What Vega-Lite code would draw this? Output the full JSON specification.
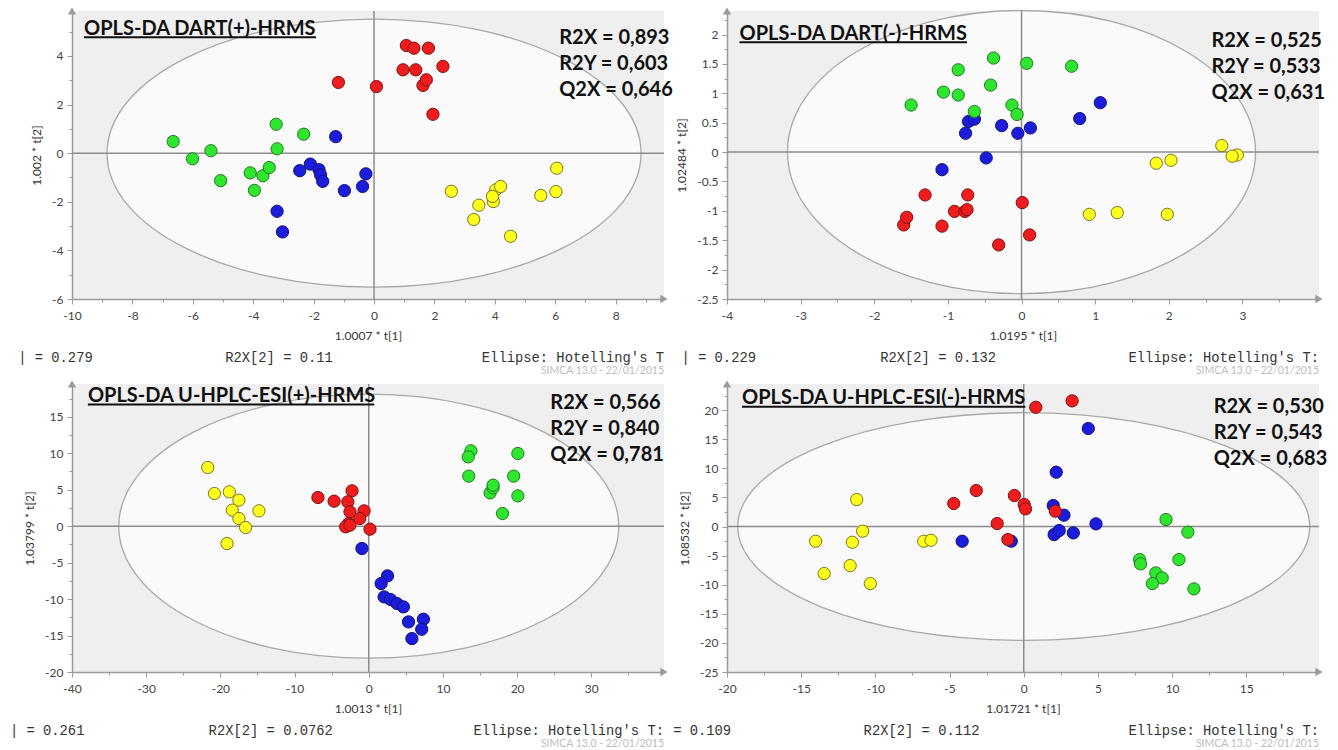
{
 "$schema": "https://vega.github.io/schema/vega-lite/v6.json",
 "padding": {"left": 9, "top": 7, "right": 0, "bottom": 0},
 "background": "white",
 "columns": 2,
 "spacing": {"row": 3, "column": 0},
 "datasets": {
  "scores": [
   {"panel":"TL","group":"blue","x":-1.27,"y":0.68},{"panel":"TL","group":"blue","x":-2.46,"y":-0.72},{"panel":"TL","group":"blue","x":-2.11,"y":-0.45},{"panel":"TL","group":"blue","x":-1.82,"y":-0.68},{"panel":"TL","group":"blue","x":-1.77,"y":-0.89},{"panel":"TL","group":"blue","x":-1.70,"y":-1.16},{"panel":"TL","group":"blue","x":-0.98,"y":-1.54},{"panel":"TL","group":"blue","x":-0.27,"y":-0.85},{"panel":"TL","group":"blue","x":-0.38,"y":-1.37},{"panel":"TL","group":"blue","x":-3.21,"y":-2.39},{"panel":"TL","group":"blue","x":-3.03,"y":-3.24},
   {"panel":"TL","group":"red","x":1.07,"y":4.43},{"panel":"TL","group":"red","x":1.32,"y":4.32},{"panel":"TL","group":"red","x":1.80,"y":4.32},{"panel":"TL","group":"red","x":0.96,"y":3.43},{"panel":"TL","group":"red","x":1.38,"y":3.43},{"panel":"TL","group":"red","x":2.28,"y":3.57},{"panel":"TL","group":"red","x":1.62,"y":2.79},{"panel":"TL","group":"red","x":1.73,"y":3.02},{"panel":"TL","group":"red","x":-1.18,"y":2.91},{"panel":"TL","group":"red","x":0.08,"y":2.74},{"panel":"TL","group":"red","x":1.95,"y":1.60},
   {"panel":"TL","group":"green","x":-6.65,"y":0.48},{"panel":"TL","group":"green","x":-6.01,"y":-0.23},{"panel":"TL","group":"green","x":-5.40,"y":0.10},{"panel":"TL","group":"green","x":-5.08,"y":-1.13},{"panel":"TL","group":"green","x":-3.24,"y":1.19},{"panel":"TL","group":"green","x":-3.21,"y":0.18},{"panel":"TL","group":"green","x":-2.33,"y":0.78},{"panel":"TL","group":"green","x":-4.10,"y":-0.81},{"panel":"TL","group":"green","x":-3.68,"y":-0.93},{"panel":"TL","group":"green","x":-3.47,"y":-0.59},{"panel":"TL","group":"green","x":-3.96,"y":-1.53},
   {"panel":"TL","group":"yellow","x":2.56,"y":-1.57},{"panel":"TL","group":"yellow","x":3.30,"y":-2.73},{"panel":"TL","group":"yellow","x":3.47,"y":-2.14},{"panel":"TL","group":"yellow","x":3.95,"y":-1.99},{"panel":"TL","group":"yellow","x":4.03,"y":-1.51},{"panel":"TL","group":"yellow","x":3.92,"y":-1.78},{"panel":"TL","group":"yellow","x":4.19,"y":-1.37},{"panel":"TL","group":"yellow","x":4.52,"y":-3.42},{"panel":"TL","group":"yellow","x":5.52,"y":-1.74},{"panel":"TL","group":"yellow","x":6.02,"y":-1.58},{"panel":"TL","group":"yellow","x":6.05,"y":-0.62},
   {"panel":"TR","group":"blue","x":1.07,"y":0.84},{"panel":"TR","group":"blue","x":0.79,"y":0.57},{"panel":"TR","group":"blue","x":-0.72,"y":0.52},{"panel":"TR","group":"blue","x":-0.64,"y":0.56},{"panel":"TR","group":"blue","x":-0.76,"y":0.32},{"panel":"TR","group":"blue","x":-0.27,"y":0.45},{"panel":"TR","group":"blue","x":-0.05,"y":0.32},{"panel":"TR","group":"blue","x":0.12,"y":0.41},{"panel":"TR","group":"blue","x":-0.48,"y":-0.10},{"panel":"TR","group":"blue","x":-1.08,"y":-0.30},
   {"panel":"TR","group":"green","x":-0.38,"y":1.60},{"panel":"TR","group":"green","x":0.07,"y":1.51},{"panel":"TR","group":"green","x":0.68,"y":1.46},{"panel":"TR","group":"green","x":-0.86,"y":1.40},{"panel":"TR","group":"green","x":-1.06,"y":1.02},{"panel":"TR","group":"green","x":-0.86,"y":0.97},{"panel":"TR","group":"green","x":-0.42,"y":1.14},{"panel":"TR","group":"green","x":-1.50,"y":0.80},{"panel":"TR","group":"green","x":-0.64,"y":0.69},{"panel":"TR","group":"green","x":-0.13,"y":0.80},{"panel":"TR","group":"green","x":-0.06,"y":0.64},
   {"panel":"TR","group":"red","x":-1.31,"y":-0.73},{"panel":"TR","group":"red","x":-0.73,"y":-0.73},{"panel":"TR","group":"red","x":-0.91,"y":-1.01},{"panel":"TR","group":"red","x":-0.77,"y":-1.01},{"panel":"TR","group":"red","x":-0.74,"y":-0.98},{"panel":"TR","group":"red","x":0.01,"y":-0.86},{"panel":"TR","group":"red","x":-1.60,"y":-1.24},{"panel":"TR","group":"red","x":-1.56,"y":-1.11},{"panel":"TR","group":"red","x":-1.08,"y":-1.26},{"panel":"TR","group":"red","x":-0.31,"y":-1.58},{"panel":"TR","group":"red","x":0.11,"y":-1.41},
   {"panel":"TR","group":"yellow","x":2.72,"y":0.11},{"panel":"TR","group":"yellow","x":2.93,"y":-0.05},{"panel":"TR","group":"yellow","x":2.86,"y":-0.07},{"panel":"TR","group":"yellow","x":1.83,"y":-0.19},{"panel":"TR","group":"yellow","x":2.03,"y":-0.14},{"panel":"TR","group":"yellow","x":0.92,"y":-1.06},{"panel":"TR","group":"yellow","x":1.30,"y":-1.03},{"panel":"TR","group":"yellow","x":1.98,"y":-1.06},
   {"panel":"BL","group":"yellow","x":-21.7,"y":8.05},{"panel":"BL","group":"yellow","x":-20.8,"y":4.48},{"panel":"BL","group":"yellow","x":-18.8,"y":4.71},{"panel":"BL","group":"yellow","x":-17.5,"y":3.57},{"panel":"BL","group":"yellow","x":-18.4,"y":2.20},{"panel":"BL","group":"yellow","x":-17.5,"y":1.05},{"panel":"BL","group":"yellow","x":-16.6,"y":-0.18},{"panel":"BL","group":"yellow","x":-14.8,"y":2.10},{"panel":"BL","group":"yellow","x":-19.1,"y":-2.38},
   {"panel":"BL","group":"blue","x":-0.92,"y":-3.06},{"panel":"BL","group":"blue","x":2.53,"y":-6.82},{"panel":"BL","group":"blue","x":1.67,"y":-7.87},{"panel":"BL","group":"blue","x":2.07,"y":-9.70},{"panel":"BL","group":"blue","x":2.94,"y":-10.06},{"panel":"BL","group":"blue","x":3.80,"y":-10.61},{"panel":"BL","group":"blue","x":4.67,"y":-11.07},{"panel":"BL","group":"blue","x":5.36,"y":-13.13},{"panel":"BL","group":"blue","x":7.37,"y":-12.76},{"panel":"BL","group":"blue","x":7.14,"y":-14.14},{"panel":"BL","group":"blue","x":5.82,"y":-15.42},
   {"panel":"BL","group":"red","x":-6.85,"y":3.93},{"panel":"BL","group":"red","x":-4.67,"y":3.43},{"panel":"BL","group":"red","x":-2.25,"y":4.85},{"panel":"BL","group":"red","x":-2.82,"y":3.34},{"panel":"BL","group":"red","x":-2.53,"y":1.97},{"panel":"BL","group":"red","x":-0.63,"y":2.10},{"panel":"BL","group":"red","x":-1.21,"y":1.05},{"panel":"BL","group":"red","x":-2.71,"y":0.37},{"panel":"BL","group":"red","x":-3.11,"y":-0.09},{"panel":"BL","group":"red","x":-2.53,"y":0.14},{"panel":"BL","group":"red","x":0.17,"y":-0.41},
   {"panel":"BL","group":"green","x":13.77,"y":10.34},{"panel":"BL","group":"green","x":13.42,"y":9.51},{"panel":"BL","group":"green","x":20.1,"y":9.97},{"panel":"BL","group":"green","x":13.48,"y":6.86},{"panel":"BL","group":"green","x":19.53,"y":6.86},{"panel":"BL","group":"green","x":16.36,"y":4.57},{"panel":"BL","group":"green","x":16.76,"y":5.26},{"panel":"BL","group":"green","x":16.76,"y":5.63},{"panel":"BL","group":"green","x":20.1,"y":4.16},{"panel":"BL","group":"green","x":18.03,"y":1.74},
   {"panel":"BR","group":"blue","x":4.35,"y":16.85},{"panel":"BR","group":"blue","x":2.19,"y":9.34},{"panel":"BR","group":"blue","x":1.99,"y":3.61},{"panel":"BR","group":"blue","x":2.71,"y":1.95},{"panel":"BR","group":"blue","x":4.87,"y":0.46},{"panel":"BR","group":"blue","x":2.05,"y":-1.38},{"panel":"BR","group":"blue","x":2.39,"y":-0.69},{"panel":"BR","group":"blue","x":3.34,"y":-1.09},{"panel":"BR","group":"blue","x":-4.15,"y":-2.52},{"panel":"BR","group":"blue","x":-0.84,"y":-2.52},
   {"panel":"BR","group":"red","x":0.81,"y":20.5},{"panel":"BR","group":"red","x":3.26,"y":21.6},{"panel":"BR","group":"red","x":-3.20,"y":6.19},{"panel":"BR","group":"red","x":-4.72,"y":3.96},{"panel":"BR","group":"red","x":-0.63,"y":5.33},{"panel":"BR","group":"red","x":0.03,"y":3.78},{"panel":"BR","group":"red","x":0.12,"y":3.04},{"panel":"BR","group":"red","x":2.13,"y":2.64},{"panel":"BR","group":"red","x":-1.79,"y":0.52},{"panel":"BR","group":"red","x":-1.07,"y":-2.24},
   {"panel":"BR","group":"yellow","x":-11.26,"y":4.64},{"panel":"BR","group":"yellow","x":-10.86,"y":-0.80},{"panel":"BR","group":"yellow","x":-14.03,"y":-2.52},{"panel":"BR","group":"yellow","x":-11.55,"y":-2.70},{"panel":"BR","group":"yellow","x":-6.74,"y":-2.52},{"panel":"BR","group":"yellow","x":-6.25,"y":-2.35},{"panel":"BR","group":"yellow","x":-13.45,"y":-8.08},{"panel":"BR","group":"yellow","x":-11.70,"y":-6.71},{"panel":"BR","group":"yellow","x":-10.34,"y":-9.81},
   {"panel":"BR","group":"green","x":9.59,"y":1.20},{"panel":"BR","group":"green","x":11.06,"y":-0.97},{"panel":"BR","group":"green","x":7.81,"y":-5.68},{"panel":"BR","group":"green","x":7.87,"y":-6.42},{"panel":"BR","group":"green","x":10.46,"y":-5.68},{"panel":"BR","group":"green","x":8.90,"y":-7.97},{"panel":"BR","group":"green","x":9.33,"y":-8.83},{"panel":"BR","group":"green","x":8.67,"y":-9.81},{"panel":"BR","group":"green","x":11.47,"y":-10.72}
  ]
 },
 "concat": [
  {
   "width": 592, "height": 288,
   "data": {"values": [{}]},
   "title": {"text": "| = 0.279\u00a0\u00a0\u00a0\u00a0\u00a0\u00a0\u00a0\u00a0\u00a0\u00a0\u00a0\u00a0\u00a0\u00a0\u00a0\u00a0R2X[2] = 0.11\u00a0\u00a0\u00a0\u00a0\u00a0\u00a0\u00a0\u00a0\u00a0\u00a0\u00a0\u00a0\u00a0\u00a0\u00a0\u00a0\u00a0\u00a0Ellipse: Hotelling's T", "subtitle": "SIMCA 13.0 - 22/01/2015"},
   "layer": [
    {"mark": {"type": "point", "shape": "M-1,0A1,0.502,0,1,1,1,0A1,0.502,0,1,1,-1,0Z", "size": 285156, "filled": true, "fill": "white", "fillOpacity": 0.7, "stroke": "#a8a8a8", "strokeWidth": 1.3, "opacity": 1},
     "encoding": {
      "x": {"datum": 0, "type": "quantitative", "scale": {"domain": [-10, 9.6], "nice": false, "zero": false},
            "axis": {"title": "1.0007 * t[1]", "tickCount": 100, "values": [-10,-9,-8,-7,-6,-5,-4,-3,-2,-1,0,1,2,3,4,5,6,7,8,9], "labelExpr": "datum.value % 2 != 0 ? '' : '' + datum.value", "labelFontSize": {"condition": {"test": "datum.value % 2 != 0", "value": 0}, "value": 12}, "tickSize": {"condition": {"test": "datum.value % 2 != 0", "value": 3}, "value": 5}, "gridOpacity": {"condition": {"test": "datum.value % 2 != 0", "value": 0}, "value": 1}}},
      "y": {"datum": 0, "type": "quantitative", "scale": {"domain": [-6, 5.85], "nice": false, "zero": false},
            "axis": {"title": "1.002 * t[2]", "tickCount": 100, "values": [-6,-5,-4,-3,-2,-1,0,1,2,3,4,5], "labelExpr": "datum.value % 2 != 0 ? '' : '' + datum.value", "labelFontSize": {"condition": {"test": "datum.value % 2 != 0", "value": 0}, "value": 12}, "tickSize": {"condition": {"test": "datum.value % 2 != 0", "value": 3}, "value": 5}, "gridOpacity": {"condition": {"test": "datum.value % 2 != 0", "value": 0}, "value": 1}}}
     }},
    {"mark": {"type": "rule", "color": "#8c8c8c", "strokeWidth": 1.5}, "encoding": {"y": {"datum": 0}}},
    {"mark": {"type": "rule", "color": "#8c8c8c", "strokeWidth": 1.5}, "encoding": {"x": {"datum": 0}}},
    {"data": {"name": "scores"}, "transform": [{"filter": "datum.panel == 'TL'"}],
     "mark": {"type": "point", "filled": true, "size": 150, "opacity": 1, "strokeWidth": 1},
     "encoding": {
      "x": {"field": "x", "type": "quantitative", "title": "1.0007 * t[1]"},
      "y": {"field": "y", "type": "quantitative", "title": "1.002 * t[2]"},
      "fill": {"field": "group", "type": "nominal", "scale": {"domain": ["red","green","blue","yellow"], "range": ["#ee1c1c","#2ee62e","#1c1cdc","#ffff1e"]}, "legend": null},
      "stroke": {"field": "group", "type": "nominal", "scale": {"domain": ["red","green","blue","yellow"], "range": ["#7c1010","#217a21","#10107a","#76761a"]}, "legend": null}
     }},
    {"mark": {"type": "text", "align": "left", "baseline": "alphabetic", "font": "Lato", "fontSize": 20, "fontWeight": "bold", "color": "#111111"}, "encoding": {"x": {"datum": -9.6}, "y": {"datum": 4.87}, "text": {"value": "OPLS-DA DART(+)-HRMS"}}},
    {"mark": {"type": "rule", "color": "#111111", "strokeWidth": 2}, "encoding": {"x": {"datum": -9.6}, "x2": {"datum": -1.92}, "y": {"datum": 4.77}}},
    {"mark": {"type": "text", "align": "left", "baseline": "alphabetic", "font": "Lato", "fontSize": 20, "fontWeight": "bold", "lineHeight": 26, "color": "#111111"}, "encoding": {"x": {"datum": 6.13}, "y": {"datum": 4.49}, "text": {"value": ["R2X = 0,893", "R2Y = 0,603", "Q2X = 0,646"]}}},
    {"mark": {"type": "point", "shape": "triangle-right", "filled": true, "color": "#9a9a9a", "size": 70, "opacity": 1}, "encoding": {"x": {"datum": 9.6}, "y": {"datum": -6}}},
    {"mark": {"type": "point", "shape": "triangle-up", "filled": true, "color": "#9a9a9a", "size": 70, "opacity": 1}, "encoding": {"x": {"datum": -10}, "y": {"datum": 5.85}}}
   ]
  },
  {
   "width": 592, "height": 288,
   "data": {"values": [{}]},
   "title": {"text": "| = 0.229\u00a0\u00a0\u00a0\u00a0\u00a0\u00a0\u00a0\u00a0\u00a0\u00a0\u00a0\u00a0\u00a0\u00a0\u00a0R2X[2] = 0.132\u00a0\u00a0\u00a0\u00a0\u00a0\u00a0\u00a0\u00a0\u00a0\u00a0\u00a0\u00a0\u00a0\u00a0\u00a0\u00a0Ellipse: Hotelling's T:", "subtitle": "SIMCA 13.0 - 22/01/2015"},
   "layer": [
    {"mark": {"type": "point", "shape": "M-1,0A1,0.605,0,1,1,1,0A1,0.605,0,1,1,-1,0Z", "size": 219024, "filled": true, "fill": "white", "fillOpacity": 0.7, "stroke": "#a8a8a8", "strokeWidth": 1.3, "opacity": 1},
     "encoding": {
      "x": {"datum": 0, "type": "quantitative", "scale": {"domain": [-4, 4.04], "nice": false, "zero": false},
            "axis": {"title": "1.0195 * t[1]", "tickCount": 100, "values": [-4,-3.5,-3,-2.5,-2,-1.5,-1,-0.5,0,0.5,1,1.5,2,2.5,3,3.5], "labelExpr": "datum.value % 1 != 0 ? '' : '' + datum.value", "labelFontSize": {"condition": {"test": "datum.value % 1 != 0", "value": 0}, "value": 12}, "tickSize": {"condition": {"test": "datum.value % 1 != 0", "value": 3}, "value": 5}, "gridOpacity": {"condition": {"test": "datum.value % 1 != 0", "value": 0}, "value": 1}}},
      "y": {"datum": 0, "type": "quantitative", "scale": {"domain": [-2.5, 2.4], "nice": false, "zero": false},
            "axis": {"title": "1.02484 * t[2]", "tickCount": 100, "values": [-2.5,-2.25,-2,-1.75,-1.5,-1.25,-1,-0.75,-0.5,-0.25,0,0.25,0.5,0.75,1,1.25,1.5,1.75,2,2.25], "labelExpr": "datum.value % 0.5 != 0 ? '' : '' + datum.value", "labelFontSize": {"condition": {"test": "datum.value % 0.5 != 0", "value": 0}, "value": 12}, "tickSize": {"condition": {"test": "datum.value % 0.5 != 0", "value": 3}, "value": 5}, "gridOpacity": {"condition": {"test": "datum.value % 0.5 != 0", "value": 0}, "value": 1}}}
     }},
    {"mark": {"type": "rule", "color": "#8c8c8c", "strokeWidth": 1.5}, "encoding": {"y": {"datum": 0}}},
    {"mark": {"type": "rule", "color": "#8c8c8c", "strokeWidth": 1.5}, "encoding": {"x": {"datum": 0}}},
    {"data": {"name": "scores"}, "transform": [{"filter": "datum.panel == 'TR'"}],
     "mark": {"type": "point", "filled": true, "size": 150, "opacity": 1, "strokeWidth": 1},
     "encoding": {
      "x": {"field": "x", "type": "quantitative", "title": "1.0195 * t[1]"},
      "y": {"field": "y", "type": "quantitative", "title": "1.02484 * t[2]"},
      "fill": {"field": "group", "type": "nominal", "scale": {"domain": ["red","green","blue","yellow"], "range": ["#ee1c1c","#2ee62e","#1c1cdc","#ffff1e"]}, "legend": null},
      "stroke": {"field": "group", "type": "nominal", "scale": {"domain": ["red","green","blue","yellow"], "range": ["#7c1010","#217a21","#10107a","#76761a"]}, "legend": null}
     }},
    {"mark": {"type": "text", "align": "left", "baseline": "alphabetic", "font": "Lato", "fontSize": 20, "fontWeight": "bold", "color": "#111111"}, "encoding": {"x": {"datum": -3.83}, "y": {"datum": 1.91}, "text": {"value": "OPLS-DA DART(-)-HRMS"}}},
    {"mark": {"type": "rule", "color": "#111111", "strokeWidth": 2}, "encoding": {"x": {"datum": -3.83}, "x2": {"datum": -0.74}, "y": {"datum": 1.87}}},
    {"mark": {"type": "text", "align": "left", "baseline": "alphabetic", "font": "Lato", "fontSize": 20, "fontWeight": "bold", "lineHeight": 26, "color": "#111111"}, "encoding": {"x": {"datum": 2.58}, "y": {"datum": 1.79}, "text": {"value": ["R2X = 0,525", "R2Y = 0,533", "Q2X = 0,631"]}}},
    {"mark": {"type": "point", "shape": "triangle-right", "filled": true, "color": "#9a9a9a", "size": 70, "opacity": 1}, "encoding": {"x": {"datum": 4.04}, "y": {"datum": -2.5}}},
    {"mark": {"type": "point", "shape": "triangle-up", "filled": true, "color": "#9a9a9a", "size": 70, "opacity": 1}, "encoding": {"x": {"datum": -4}, "y": {"datum": 2.4}}}
   ]
  },
  {
   "width": 592, "height": 288,
   "data": {"values": [{}]},
   "title": {"text": "| = 0.261\u00a0\u00a0\u00a0\u00a0\u00a0\u00a0\u00a0\u00a0\u00a0\u00a0\u00a0\u00a0\u00a0\u00a0\u00a0R2X[2] = 0.0762\u00a0\u00a0\u00a0\u00a0\u00a0\u00a0\u00a0\u00a0\u00a0\u00a0\u00a0\u00a0\u00a0\u00a0\u00a0\u00a0\u00a0Ellipse: Hotelling's T:", "subtitle": "SIMCA 13.0 - 22/01/2015"},
   "layer": [
    {"mark": {"type": "point", "shape": "M-1,0A1,0.528,0,1,1,1,0A1,0.528,0,1,1,-1,0Z", "size": 250000, "filled": true, "fill": "white", "fillOpacity": 0.7, "stroke": "#a8a8a8", "strokeWidth": 1.3, "opacity": 1},
     "encoding": {
      "x": {"datum": 0, "type": "quantitative", "scale": {"domain": [-40, 39.8], "nice": false, "zero": false},
            "axis": {"title": "1.0013 * t[1]", "tickCount": 100, "values": [-40,-35,-30,-25,-20,-15,-10,-5,0,5,10,15,20,25,30,35], "labelExpr": "datum.value % 10 != 0 ? '' : '' + datum.value", "labelFontSize": {"condition": {"test": "datum.value % 10 != 0", "value": 0}, "value": 12}, "tickSize": {"condition": {"test": "datum.value % 10 != 0", "value": 3}, "value": 5}, "gridOpacity": {"condition": {"test": "datum.value % 10 != 0", "value": 0}, "value": 1}}},
      "y": {"datum": 0, "type": "quantitative", "scale": {"domain": [-20, 19.5], "nice": false, "zero": false},
            "axis": {"title": "1.03799 * t[2]", "tickCount": 100, "values": [-20,-17.5,-15,-12.5,-10,-7.5,-5,-2.5,0,2.5,5,7.5,10,12.5,15,17.5], "labelExpr": "datum.value % 5 != 0 ? '' : '' + datum.value", "labelFontSize": {"condition": {"test": "datum.value % 5 != 0", "value": 0}, "value": 12}, "tickSize": {"condition": {"test": "datum.value % 5 != 0", "value": 3}, "value": 5}, "gridOpacity": {"condition": {"test": "datum.value % 5 != 0", "value": 0}, "value": 1}}}
     }},
    {"mark": {"type": "rule", "color": "#8c8c8c", "strokeWidth": 1.5}, "encoding": {"y": {"datum": 0}}},
    {"mark": {"type": "rule", "color": "#8c8c8c", "strokeWidth": 1.5}, "encoding": {"x": {"datum": 0}}},
    {"data": {"name": "scores"}, "transform": [{"filter": "datum.panel == 'BL'"}],
     "mark": {"type": "point", "filled": true, "size": 150, "opacity": 1, "strokeWidth": 1},
     "encoding": {
      "x": {"field": "x", "type": "quantitative", "title": "1.0013 * t[1]"},
      "y": {"field": "y", "type": "quantitative", "title": "1.03799 * t[2]"},
      "fill": {"field": "group", "type": "nominal", "scale": {"domain": ["red","green","blue","yellow"], "range": ["#ee1c1c","#2ee62e","#1c1cdc","#ffff1e"]}, "legend": null},
      "stroke": {"field": "group", "type": "nominal", "scale": {"domain": ["red","green","blue","yellow"], "range": ["#7c1010","#217a21","#10107a","#76761a"]}, "legend": null}
     }},
    {"mark": {"type": "text", "align": "left", "baseline": "alphabetic", "font": "Lato", "fontSize": 20, "fontWeight": "bold", "color": "#111111"}, "encoding": {"x": {"datum": -37.86}, "y": {"datum": 17.05}, "text": {"value": "OPLS-DA U-HPLC-ESI(+)-HRMS"}}},
    {"mark": {"type": "rule", "color": "#111111", "strokeWidth": 2}, "encoding": {"x": {"datum": -37.86}, "x2": {"datum": 0.75}, "y": {"datum": 16.7}}},
    {"mark": {"type": "text", "align": "left", "baseline": "alphabetic", "font": "Lato", "fontSize": 20, "fontWeight": "bold", "lineHeight": 26, "color": "#111111"}, "encoding": {"x": {"datum": 24.47}, "y": {"datum": 16.13}, "text": {"value": ["R2X = 0,566", "R2Y = 0,840", "Q2X = 0,781"]}}},
    {"mark": {"type": "point", "shape": "triangle-right", "filled": true, "color": "#9a9a9a", "size": 70, "opacity": 1}, "encoding": {"x": {"datum": 39.8}, "y": {"datum": -20}}},
    {"mark": {"type": "point", "shape": "triangle-up", "filled": true, "color": "#9a9a9a", "size": 70, "opacity": 1}, "encoding": {"x": {"datum": -40}, "y": {"datum": 19.5}}}
   ]
  },
  {
   "width": 592, "height": 288,
   "data": {"values": [{}]},
   "title": {"text": "= 0.109\u00a0\u00a0\u00a0\u00a0\u00a0\u00a0\u00a0\u00a0\u00a0\u00a0\u00a0\u00a0\u00a0\u00a0\u00a0\u00a0R2X[2] = 0.112\u00a0\u00a0\u00a0\u00a0\u00a0\u00a0\u00a0\u00a0\u00a0\u00a0\u00a0\u00a0\u00a0\u00a0\u00a0\u00a0\u00a0\u00a0Ellipse: Hotelling's T:", "subtitle": "SIMCA 13.0 - 22/01/2015"},
   "layer": [
    {"mark": {"type": "point", "shape": "M-1,0A1,0.398,0,1,1,1,0A1,0.398,0,1,1,-1,0Z", "size": 327184, "filled": true, "fill": "white", "fillOpacity": 0.7, "stroke": "#a8a8a8", "strokeWidth": 1.3, "opacity": 1},
     "encoding": {
      "x": {"datum": 0, "type": "quantitative", "scale": {"domain": [-20, 19.9], "nice": false, "zero": false},
            "axis": {"title": "1.01721 * t[1]", "tickCount": 100, "values": [-20,-17.5,-15,-12.5,-10,-7.5,-5,-2.5,0,2.5,5,7.5,10,12.5,15,17.5], "labelExpr": "datum.value % 5 != 0 ? '' : '' + datum.value", "labelFontSize": {"condition": {"test": "datum.value % 5 != 0", "value": 0}, "value": 12}, "tickSize": {"condition": {"test": "datum.value % 5 != 0", "value": 3}, "value": 5}, "gridOpacity": {"condition": {"test": "datum.value % 5 != 0", "value": 0}, "value": 1}}},
      "y": {"datum": 0, "type": "quantitative", "scale": {"domain": [-25, 24.5], "nice": false, "zero": false},
            "axis": {"title": "1.08532 * t[2]", "tickCount": 100, "values": [-25,-22.5,-20,-17.5,-15,-12.5,-10,-7.5,-5,-2.5,0,2.5,5,7.5,10,12.5,15,17.5,20,22.5], "labelExpr": "datum.value % 5 != 0 ? '' : '' + datum.value", "labelFontSize": {"condition": {"test": "datum.value % 5 != 0", "value": 0}, "value": 12}, "tickSize": {"condition": {"test": "datum.value % 5 != 0", "value": 3}, "value": 5}, "gridOpacity": {"condition": {"test": "datum.value % 5 != 0", "value": 0}, "value": 1}}}
     }},
    {"mark": {"type": "rule", "color": "#8c8c8c", "strokeWidth": 1.5}, "encoding": {"y": {"datum": 0}}},
    {"mark": {"type": "rule", "color": "#8c8c8c", "strokeWidth": 1.5}, "encoding": {"x": {"datum": 0}}},
    {"data": {"name": "scores"}, "transform": [{"filter": "datum.panel == 'BR'"}],
     "mark": {"type": "point", "filled": true, "size": 150, "opacity": 1, "strokeWidth": 1},
     "encoding": {
      "x": {"field": "x", "type": "quantitative", "title": "1.01721 * t[1]"},
      "y": {"field": "y", "type": "quantitative", "title": "1.08532 * t[2]"},
      "fill": {"field": "group", "type": "nominal", "scale": {"domain": ["red","green","blue","yellow"], "range": ["#ee1c1c","#2ee62e","#1c1cdc","#ffff1e"]}, "legend": null},
      "stroke": {"field": "group", "type": "nominal", "scale": {"domain": ["red","green","blue","yellow"], "range": ["#7c1010","#217a21","#10107a","#76761a"]}, "legend": null}
     }},
    {"mark": {"type": "text", "align": "left", "baseline": "alphabetic", "font": "Lato", "fontSize": 20, "fontWeight": "bold", "color": "#111111"}, "encoding": {"x": {"datum": -18.99}, "y": {"datum": 21.0}, "text": {"value": "OPLS-DA U-HPLC-ESI(-)-HRMS"}}},
    {"mark": {"type": "rule", "color": "#111111", "strokeWidth": 2}, "encoding": {"x": {"datum": -18.99}, "x2": {"datum": 0.11}, "y": {"datum": 20.58}}},
    {"mark": {"type": "text", "align": "left", "baseline": "alphabetic", "font": "Lato", "fontSize": 20, "fontWeight": "bold", "lineHeight": 26, "color": "#111111"}, "encoding": {"x": {"datum": 12.8}, "y": {"datum": 19.55}, "text": {"value": ["R2X = 0,530", "R2Y = 0,543", "Q2X = 0,683"]}}},
    {"mark": {"type": "point", "shape": "triangle-right", "filled": true, "color": "#9a9a9a", "size": 70, "opacity": 1}, "encoding": {"x": {"datum": 19.9}, "y": {"datum": -25}}},
    {"mark": {"type": "point", "shape": "triangle-up", "filled": true, "color": "#9a9a9a", "size": 70, "opacity": 1}, "encoding": {"x": {"datum": -20}, "y": {"datum": 24.5}}}
   ]
  }
 ],
 "config": {
  "view": {"fill": "#efefef", "stroke": null},
  "axis": {"domainColor": "#9a9a9a", "domainWidth": 1.5, "tickColor": "#9a9a9a", "labelColor": "#444444", "labelFont": "Lato", "labelFontSize": 12, "titleFont": "Lato", "titleFontSize": 12, "titleFontWeight": "normal", "titleColor": "#333333", "gridColor": "#d6d6d6", "labelFlush": false, "labelOverlap": false},
  "axisX": {"labelPadding": 6, "titlePadding": 9},
  "axisY": {"labelPadding": 4, "titlePadding": 8},
  "title": {"orient": "bottom", "anchor": "end", "frame": "group", "font": "Liberation Mono", "fontSize": 13.8, "fontWeight": "normal", "color": "#333333", "offset": 10, "subtitleFont": "Lato", "subtitleFontSize": 10.5, "subtitleColor": "#bdbdbd", "subtitlePadding": 1}
 }
}
